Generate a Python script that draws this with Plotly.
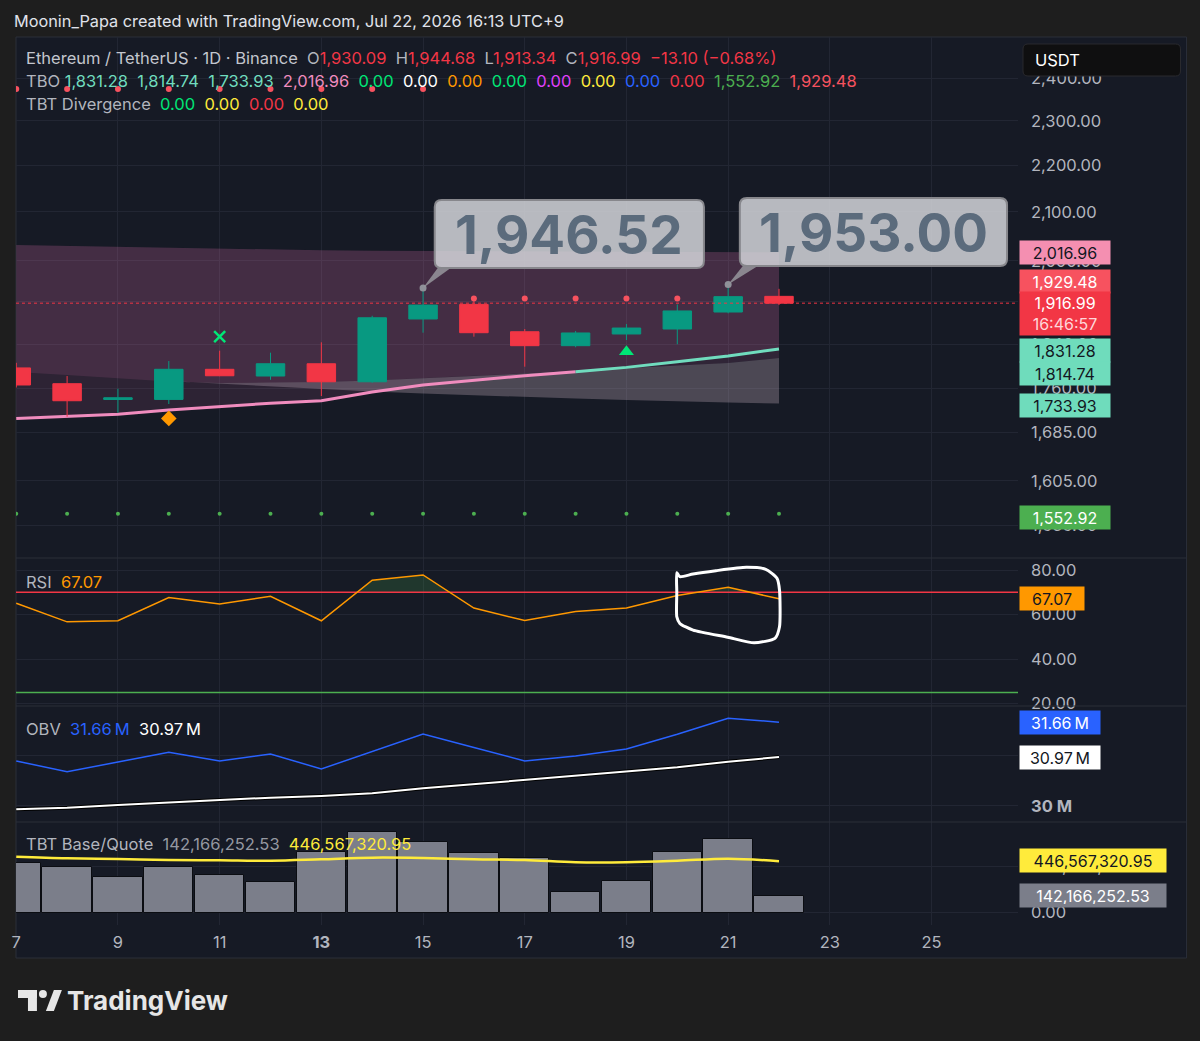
import math
import plotly.graph_objects as go
from plotly.subplots import make_subplots

# ---------------- data ----------------
days = list(range(7, 23))
x_ticks = [7, 9, 11, 13, 15, 17, 19, 21, 23, 25]
x_ticktext = ["7", "9", "11", "<b>13</b>", "15", "17", "19", "21", "23", "25"]

opens = [1796.8, 1768.7, 1741.0, 1741.1, 1794.3, 1782.3, 1804.3, 1772.1,
         1886.9, 1914.6, 1863.0, 1837.2, 1858.8, 1868.1, 1900.1, 1930.09]
highs = [1806.0, 1782.3, 1759.8, 1809.2, 1828.0, 1824.4, 1843.4, 1893.0,
         1946.52, 1922.0, 1868.1, 1864.4, 1877.4, 1914.6, 1953.00, 1944.68]
lows = [1762.0, 1711.2, 1718.1, 1733.1, 1782.0, 1775.6, 1747.0, 1770.3,
        1861.2, 1853.8, 1799.0, 1834.3, 1847.6, 1839.8, 1897.6, 1913.34]
closes = [1766.4, 1738.8, 1744.0, 1794.3, 1782.8, 1804.3, 1772.1, 1889.2,
          1913.3, 1861.2, 1837.2, 1860.7, 1869.9, 1902.1, 1929.48, 1916.99]

# TBO indicator lines
tbo_top = [2032, 2030, 2028, 2026, 2024, 2022, 2021, 2020,
           2019.5, 2019, 2018.5, 2018, 2017.8, 2017.5, 2017.2, 2016.96]
tbo_fast = [1708.4, 1711.2, 1715.3, 1722.7, 1729.1, 1734.4, 1738.9, 1754.0,
            1766.4, 1775.2, 1782.8, 1789.9, 1797.8, 1808.0, 1818.3, 1831.28]
tbo_mid = [1789.4, 1784.0, 1778.8, 1772.6, 1769.9, 1770.8, 1771.7, 1774.3,
           1777.9, 1782.3, 1786.8, 1791.2, 1795.7, 1800.2, 1805.6, 1814.74]
slow_days = list(range(10, 23))
tbo_slow = [1773.5, 1768.1, 1763.7, 1759.3, 1754.9, 1751.4, 1747.9,
            1745.3, 1742.6, 1740.0, 1737.4, 1735.7, 1733.93]
tbo_red_level = 1929.48
tbo_support = 1552.92
stop_days_a = list(range(7, 16))
stop_vals_a = [2374.8] * 9
stop_days_b = list(range(16, 21))
stop_vals_b = [1926.0] * 5
cross_day, cross_val = [11], [1853.7]
diamond_day, diamond_val = [10], [1708.4]
triangle_day, triangle_val = [19], [1826.2]
price_ticks = [1535, 1605, 1685, 1760, 1840, 1920, 2000, 2100, 2200, 2300, 2400]

rsi = [65.1, 56.7, 57.2, 67.6, 64.7, 68.2, 57.2, 75.4,
       77.8, 62.9, 57.3, 61.4, 62.9, 68.5, 72.3, 67.07]
rsi_upper, rsi_lower = 70, 25
rsi_ticks = [20, 40, 60, 80]
# hand-drawn loop on the RSI pane (day, RSI)
loop_days = [19.99, 20.05, 20.31, 20.76, 21.36, 21.74, 21.96, 22.01, 22.01,
             21.92, 21.51, 20.99, 20.31, 20.05, 19.99, 19.99, 19.99]
loop_vals = [78.8, 77.0, 78.2, 79.7, 81.2, 80.3, 76.3, 71.0, 54.5,
             49.3, 47.3, 49.8, 53.0, 56.0, 59.0, 70.0, 78.8]

obv = [30.891, 30.679, 30.871, 31.063, 30.891, 31.030, 30.733, 31.08,
       31.426, 31.16, 30.891, 30.99, 31.129, 31.42, 31.737, 31.66]
obv_ma = [29.935, 29.966, 30.02, 30.073, 30.119, 30.165, 30.198, 30.251,
          30.35, 30.436, 30.515, 30.594, 30.68, 30.766, 30.877, 30.97]
obv_ticks = [30, 31]

tbt_base = [433, 398, 309, 396, 326, 263, 526, 703,
            616, 515, 471, 181, 274, 523, 637, 142.16625253]   # millions
tbt_quote = [485, 471, 465, 457, 454, 450, 463, 477,
             474, 463, 457, 437, 437, 450, 468, 446.56732095]  # millions
tbt_ticks = [0, 400]

# ---------------- layout constants ----------------
W, H = 1200, 1041
PL, PR, PT, PB = 13, 1018, 37, 925
FONT = "Inter, Roboto, sans-serif"
BG = "#161a25"
OUTER = "#1e1e1e"
GRID = "#222633"
TXT = "#b2b5be"
RED = "#f23645"
GREEN = "#089981"
TICK_SIZE = 16.5
ANN_PAD = 4

X_RANGE = [6.995, 26.70]
MAIN_RANGE = [math.log10(1485.8), math.log10(2501.5)]
RSI_RANGE = [18.9, 85.4]
OBV_RANGE = [29.683, 31.98]
TBT_RANGE = [-108.7, 787]
DOMAINS = [[0.41329, 1.0], [0.24662, 0.41329], [0.11599, 0.24662], [0.0, 0.11599]]


def paper_x(px):
    return (px - PL) / (PR - PL)


def paper_y(py):
    return (PB - py) / (PB - PT)


def main_paper(day, price):
    xp = (day - X_RANGE[0]) / (X_RANGE[1] - X_RANGE[0])
    lo, hi = MAIN_RANGE
    d0, d1 = DOMAINS[0]
    yp = d0 + (math.log10(price) - lo) / (hi - lo) * (d1 - d0)
    return xp, yp


def fmt(v):
    return f"{v:,.2f}"


fig = make_subplots(rows=4, cols=1, shared_xaxes=True, vertical_spacing=0,
                    row_heights=[521, 148, 116, 103])

# ---------- main pane (base layer) ----------
fig.add_trace(go.Scatter(x=days + days[::-1], y=tbo_top + tbo_fast[::-1], fill="toself",
                         fillcolor="rgba(214,109,162,0.12)", line=dict(width=0),
                         mode="lines", hoverinfo="skip"), row=1, col=1)
fig.add_trace(go.Scatter(x=days + days[::-1], y=tbo_top + tbo_mid[::-1], fill="toself",
                         fillcolor="rgba(235,126,192,0.12)", line=dict(width=0),
                         mode="lines", hoverinfo="skip"), row=1, col=1)
mid_from10 = tbo_mid[days.index(10):]
fig.add_trace(go.Scatter(x=slow_days + slow_days[::-1], y=mid_from10 + tbo_slow[::-1], fill="toself",
                         fillcolor="rgba(202,179,194,0.30)", line=dict(width=0),
                         mode="lines", hoverinfo="skip"), row=1, col=1)

split = days.index(18)
fig.add_trace(go.Scatter(x=days[:split + 1], y=tbo_fast[:split + 1], mode="lines",
                         line=dict(color="#f08cbe", width=3)), row=1, col=1)
fig.add_trace(go.Scatter(x=days[split:], y=tbo_fast[split:], mode="lines",
                         line=dict(color="#70dcbe", width=3)), row=1, col=1)

fig.add_trace(go.Scatter(x=days, y=[tbo_support] * len(days), mode="markers",
                         marker=dict(color="#4caf50", size=4)), row=1, col=1)
fig.add_trace(go.Scatter(x=cross_day, y=cross_val, mode="markers",
                         marker=dict(symbol="x-thin", size=11, line=dict(color="#00e676", width=2.5))),
              row=1, col=1)
fig.add_trace(go.Scatter(x=diamond_day, y=diamond_val, mode="markers",
                         marker=dict(symbol="diamond", size=12, color="#ff9800")), row=1, col=1)
fig.add_trace(go.Scatter(x=triangle_day, y=triangle_val, mode="markers",
                         marker=dict(symbol="triangle-up", size=13, color="#00e676")), row=1, col=1)

# ---------- candles on an overlaid axis so they sit above the fills ----------
fig.add_trace(go.Scatter(x=X_RANGE, y=[closes[-1]] * 2, mode="lines", xaxis="x", yaxis="y5",
                         line=dict(color=RED, width=1, dash="dot")))
fig.add_trace(go.Candlestick(x=days, open=opens, high=highs, low=lows, close=closes,
                             xaxis="x", yaxis="y5",
                             increasing=dict(line=dict(color=GREEN, width=1), fillcolor=GREEN),
                             decreasing=dict(line=dict(color=RED, width=1), fillcolor=RED),
                             whiskerwidth=0))
fig.add_trace(go.Scatter(x=stop_days_a + stop_days_b, y=stop_vals_a + stop_vals_b, mode="markers",
                         xaxis="x", yaxis="y5", marker=dict(color="#f7525f", size=6)))

# ---------- RSI pane ----------
dx, dy = [], []
for i in range(len(days)):
    if i > 0:
        a, b = rsi[i - 1], rsi[i]
        if (a - rsi_upper) * (b - rsi_upper) < 0:
            t = (rsi_upper - a) / (b - a)
            dx.append(days[i - 1] + t)
            dy.append(rsi_upper)
    dx.append(days[i])
    dy.append(rsi[i])
clip = [max(v, rsi_upper) for v in dy]
fig.add_trace(go.Scatter(x=dx + dx[::-1], y=clip + [rsi_upper] * len(dx), fill="toself",
                         fillcolor="rgba(76,175,80,0.2)", line=dict(width=0), mode="lines"),
              row=2, col=1)
fig.add_trace(go.Scatter(x=X_RANGE, y=[rsi_upper] * 2, mode="lines",
                         line=dict(color=RED, width=1.5)), row=2, col=1)
fig.add_trace(go.Scatter(x=X_RANGE, y=[rsi_lower] * 2, mode="lines",
                         line=dict(color="#4caf50", width=1.5)), row=2, col=1)
fig.add_trace(go.Scatter(x=days, y=rsi, mode="lines",
                         line=dict(color="#ff9800", width=1.5)), row=2, col=1)
fig.add_trace(go.Scatter(x=loop_days, y=loop_vals, mode="lines",
                         line=dict(color="#ffffff", width=3, shape="spline", smoothing=0.6)),
              row=2, col=1)

# ---------- OBV pane ----------
fig.add_trace(go.Scatter(x=days, y=obv_ma, mode="lines",
                         line=dict(color="#000000", width=4)), row=3, col=1)
fig.add_trace(go.Scatter(x=days, y=obv_ma, mode="lines",
                         line=dict(color="#ffffff", width=2)), row=3, col=1)
fig.add_trace(go.Scatter(x=days, y=obv, mode="lines",
                         line=dict(color="#2962ff", width=1.5)), row=3, col=1)

# ---------- TBT pane ----------
fig.add_trace(go.Bar(x=days, y=tbt_base, width=0.97,
                     marker=dict(color="#7b7e8a", line=dict(color="#0b0d12", width=1))),
              row=4, col=1)
fig.add_trace(go.Scatter(x=days, y=tbt_quote, mode="lines",
                         line=dict(color="#ffeb3b", width=2.5, shape="spline")), row=4, col=1)

# ---------- axes ----------
for i in range(1, 5):
    fig.update_xaxes(row=i, col=1, range=X_RANGE, tickvals=x_ticks, ticktext=x_ticktext,
                     showgrid=True, gridcolor=GRID, gridwidth=1, zeroline=False, showline=False,
                     ticks="", rangeslider_visible=False, showticklabels=(i == 4),
                     tickfont=dict(family=FONT, size=TICK_SIZE, color=TXT), ticklabelstandoff=5,
                     fixedrange=True)

common_y = dict(side="right", showgrid=True, gridcolor=GRID, gridwidth=1, zeroline=False,
                showline=False, ticks="", ticklabelstandoff=12,
                tickfont=dict(family=FONT, size=TICK_SIZE, color=TXT))
fig.update_yaxes(row=1, col=1, type="log", range=MAIN_RANGE, tickvals=price_ticks,
                 ticktext=[fmt(v) for v in price_ticks], domain=DOMAINS[0], **common_y)
fig.update_yaxes(row=2, col=1, range=RSI_RANGE, tickvals=rsi_ticks,
                 ticktext=[fmt(v) for v in rsi_ticks], domain=DOMAINS[1], **common_y)
fig.update_yaxes(row=3, col=1, range=OBV_RANGE, tickvals=obv_ticks,
                 ticktext=[f"<b>{v} M</b>" for v in obv_ticks], domain=DOMAINS[2], **common_y)
fig.update_yaxes(row=4, col=1, range=TBT_RANGE, tickvals=tbt_ticks,
                 ticktext=[fmt(v * 1e6) for v in tbt_ticks], domain=DOMAINS[3], **common_y)
fig.update_layout(yaxis5=dict(overlaying="y", anchor="x", type="log", range=MAIN_RANGE,
                              visible=False, showgrid=False, zeroline=False, fixedrange=True))

# ---------- shapes ----------
shapes = []
shapes.append(dict(type="rect", xref="paper", yref="paper", layer="below",
                   x0=paper_x(13), x1=paper_x(1187), y0=paper_y(958), y1=paper_y(37),
                   fillcolor=BG, line=dict(color="#2a2e39", width=1)))
for yy in [558, 706, 822]:
    shapes.append(dict(type="line", xref="paper", yref="paper", layer="above",
                       x0=paper_x(13), x1=paper_x(1187), y0=paper_y(yy), y1=paper_y(yy),
                       line=dict(color="#2a2e39", width=1)))


def rrect(x0, y0, x1, y1, r):
    pts = [("M", [(x0 + r, y0)]), ("L", [(x1 - r, y0)]), ("Q", [(x1, y0), (x1, y0 + r)]),
           ("L", [(x1, y1 - r)]), ("Q", [(x1, y1), (x1 - r, y1)]), ("L", [(x0 + r, y1)]),
           ("Q", [(x0, y1), (x0, y1 - r)]), ("L", [(x0, y0 + r)]), ("Q", [(x0, y0), (x0 + r, y0)])]
    s = ""
    for cmd, ps in pts:
        s += cmd + " " + " ".join(f"{paper_x(a):.5f},{paper_y(b):.5f}" for a, b in ps) + " "
    return s + "Z"


shapes.append(dict(type="path", xref="paper", yref="paper", path=rrect(1023, 44, 1181, 76, 5),
                   fillcolor="#0f0f10", line=dict(color="#2a2a2e", width=1)))

callouts = [
    (15, highs[days.index(15)], (433, 200, 703, 268), (436, 449, 268)),
    (21, highs[days.index(21)], (739, 198, 1007, 266), (742, 757, 266)),
]
for day, val, box, tail in callouts:
    ax, ay = main_paper(day, val)
    tx0, tx1, ty = tail
    shapes.append(dict(type="path", xref="paper", yref="paper",
                       path=f"M {paper_x(tx0):.5f},{paper_y(ty):.5f} L {paper_x(tx1):.5f},{paper_y(ty):.5f} "
                            f"L {ax:.5f},{ay:.5f} Z",
                       fillcolor="rgba(150,150,156,0.85)", line=dict(width=0)))
    shapes.append(dict(type="path", xref="paper", yref="paper", path=rrect(*box, 7),
                       fillcolor="rgba(214,216,221,0.84)",
                       line=dict(color="rgba(135,135,140,1)", width=2)))

# TradingView logo icon
shapes.append(dict(type="rect", xref="paper", yref="paper", x0=paper_x(15), x1=paper_x(34),
                   y0=paper_y(998), y1=paper_y(990), fillcolor="#e6e6e6", line=dict(width=0)))
shapes.append(dict(type="rect", xref="paper", yref="paper", x0=paper_x(25), x1=paper_x(34),
                   y0=paper_y(1011), y1=paper_y(990), fillcolor="#e6e6e6", line=dict(width=0)))
shapes.append(dict(type="circle", xref="paper", yref="paper", x0=paper_x(36), x1=paper_x(44),
                   y0=paper_y(998), y1=paper_y(990), fillcolor="#e6e6e6", line=dict(width=0)))
shapes.append(dict(type="path", xref="paper", yref="paper",
                   path=f"M {paper_x(43)},{paper_y(1011)} L {paper_x(51)},{paper_y(990)} "
                        f"L {paper_x(59)},{paper_y(990)} L {paper_x(51)},{paper_y(1011)} Z",
                   fillcolor="#e6e6e6", line=dict(width=0)))

fig.add_trace(go.Scatter(x=[c[0] for c in callouts], y=[c[1] for c in callouts], mode="markers",
                         xaxis="x", yaxis="y5", marker=dict(color="#8f9199", size=7)))

# ---------- annotations ----------
ann = []


def text_ann(text, xpx, ypx, size=16.5, color=TXT, xanchor="left", bold=False):
    x = xpx - ANN_PAD if xanchor == "left" else xpx
    ann.append(dict(xref="paper", yref="paper", x=paper_x(x), y=paper_y(ypx), text=text,
                    showarrow=False, xanchor=xanchor, yanchor="middle",
                    font=dict(family=FONT, size=size, color=color,
                              weight="bold" if bold else "normal")))


def sp(t, c):
    return f'<span style="color:{c}">{t}</span>'


NB = "\u00a0"
text_ann("Moonin_Papa created with TradingView.com, Jul 22, 2026 16:13 UTC+9", 13, 21,
         size=16.3, color="#e0e3eb")

o, h, l, c = opens[-1], highs[-1], lows[-1], closes[-1]
line1 = (sp("Ethereum / TetherUS · 1D · Binance", "#c3c6ce") + NB * 2
         + sp("O", TXT) + sp(fmt(o), RED) + NB * 2
         + sp("H", TXT) + sp(fmt(h), RED) + NB * 2
         + sp("L", TXT) + sp(fmt(l), RED) + NB * 2
         + sp("C", TXT) + sp(fmt(c), RED) + NB * 2
         + sp("\u221213.10 (\u22120.68%)", RED))
text_ann(line1, 25, 58)

tbo_vals = [(fmt(tbo_fast[-1]), "#70dcbe"), (fmt(tbo_mid[-1]), "#70dcbe"),
            (fmt(tbo_slow[-1]), "#70dcbe"), (fmt(tbo_top[-1]), "#f08cbe"),
            ("0.00", "#00e676"), ("0.00", "#ffffff"), ("0.00", "#ff9800"), ("0.00", "#00e676"),
            ("0.00", "#e040fb"), ("0.00", "#ffeb3b"), ("0.00", "#2962ff"), ("0.00", RED),
            (fmt(tbo_support), "#4caf50"), (fmt(tbo_red_level), "#f7525f")]
line2 = sp("TBO", TXT) + NB + (NB * 2).join(sp(t, col) for t, col in tbo_vals)
text_ann(line2, 25, 81)
line3 = sp("TBT Divergence", TXT) + NB * 2 + (NB * 2).join(
    sp("0.00", col) for col in ["#00e676", "#ffeb3b", RED, "#ffeb3b"])
text_ann(line3, 25, 104)

text_ann(sp("RSI", TXT) + NB * 2 + sp(fmt(rsi[-1]), "#ff9800"), 25, 582)
text_ann(sp("OBV", TXT) + NB * 2 + sp(f"{obv[-1]:.2f}\u2009M", "#2962ff") + NB * 2
         + sp(f"{obv_ma[-1]:.2f}\u2009M", "#ffffff"), 25, 729)
text_ann(sp("TBT Base/Quote", TXT) + NB * 2 + sp(fmt(tbt_base[-1] * 1e6), "#9598a1") + NB * 2
         + sp(fmt(tbt_quote[-1] * 1e6), "#ffeb3b"), 25, 844)

for (day, val, box, tail) in callouts:
    cx = (box[0] + box[2]) / 2
    cy = (box[1] + box[3]) / 2
    text_ann(fmt(val), cx, cy + 1, size=53, color="#5b6b7c", xanchor="center", bold=True)

text_ann("USDT", 1037, 60, size=16.5, color="#ffffff")
text_ann("TradingView", 66, 1000, size=26, color="#e6e6e6", bold=True)


def price_label(text, ypx, bg, fg, w=84, h=17):
    ann.append(dict(xref="paper", yref="paper", x=paper_x(1019), y=paper_y(ypx), text=text,
                    showarrow=False, xanchor="left", yanchor="middle", bgcolor=bg,
                    font=dict(family=FONT, size=16, color=fg), width=w, height=h,
                    borderpad=3, align="center", valign="middle"))


price_label(fmt(tbo_top[-1]), 252, "#f48fb1", "#131722")
price_label(fmt(tbo_red_level), 281, "#f7525f", "#ffffff")
price_label(fmt(closes[-1]) + "<br>" + sp("16:46:57", "#ffd6da"), 313.5, RED, "#ffffff", h=37)
price_label(fmt(tbo_fast[-1]), 350, "#6fdcbc", "#131722")
price_label(fmt(tbo_mid[-1]), 373, "#6fdcbc", "#131722")
price_label(fmt(tbo_slow[-1]), 405, "#6fdcbc", "#131722")
price_label(fmt(tbo_support), 517, "#4caf50", "#ffffff")
price_label(fmt(rsi[-1]), 598, "#ff9800", "#131722", w=58)
price_label(f"{obv[-1]:.2f}\u2009M", 722.5, "#2962ff", "#ffffff", w=74)
price_label(f"{obv_ma[-1]:.2f}\u2009M", 757.5, "#ffffff", "#131722", w=74)
price_label(fmt(tbt_quote[-1] * 1e6), 860.5, "#ffeb3b", "#131722", w=140)
price_label(fmt(tbt_base[-1] * 1e6), 895.5, "#7b7e8a", "#ffffff", w=140)

fig.update_layout(width=W, height=H, margin=dict(l=PL, r=W - PR, t=PT, b=H - PB),
                  paper_bgcolor=OUTER, plot_bgcolor="rgba(0,0,0,0)", showlegend=False,
                  hovermode=False, boxgap=0.2, bargap=0, shapes=shapes, annotations=ann,
                  font=dict(family=FONT, color=TXT))

fig.write_html("out.html")
